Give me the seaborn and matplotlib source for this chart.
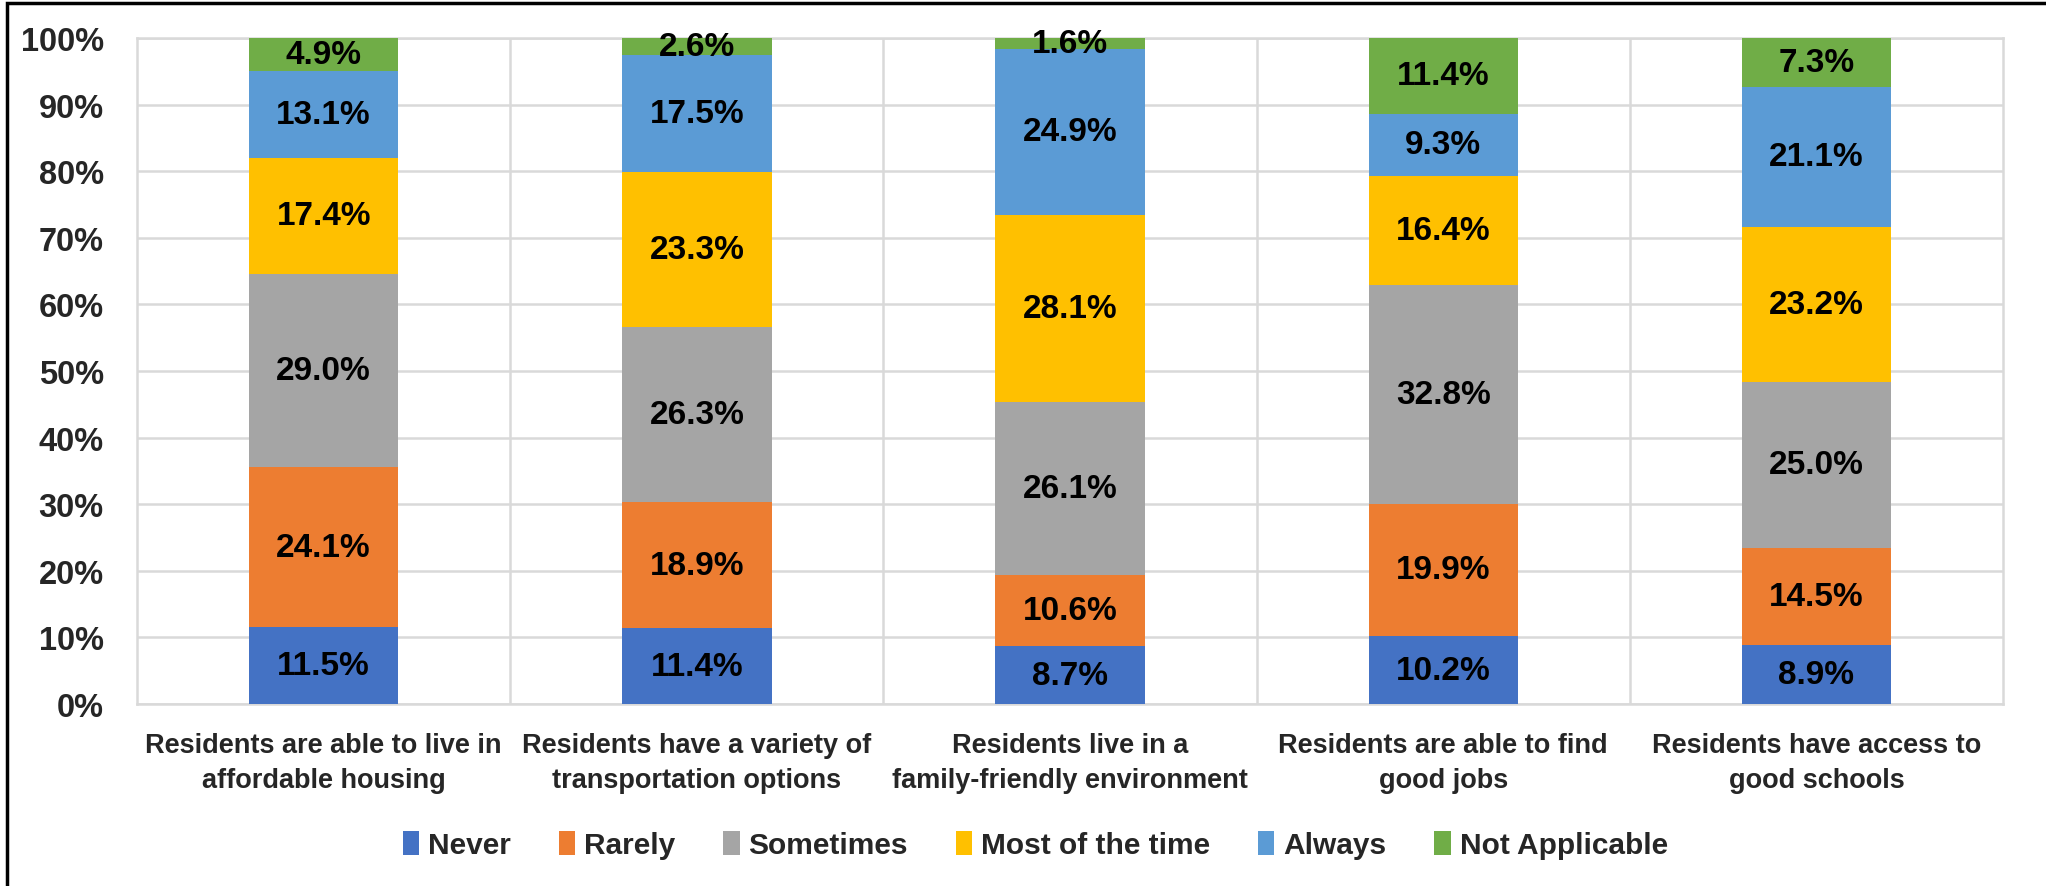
import numpy as np
import matplotlib
matplotlib.use('Agg')
import matplotlib.pyplot as plt
import seaborn as sns
from matplotlib.patches import Rectangle, Patch
from matplotlib import font_manager

sns.set_style('white')
names = {f.name for f in font_manager.fontManager.ttflist}
fam = 'Liberation Sans Narrow' if 'Liberation Sans Narrow' in names else 'Liberation Sans'
plt.rcParams['font.family'] = [fam, 'DejaVu Sans']
plt.rcParams['font.weight'] = 'bold'

categories = ['Residents are able to live in\naffordable housing',
              'Residents have a variety of\ntransportation options',
              'Residents live in a\nfamily-friendly environment',
              'Residents are able to find\ngood jobs',
              'Residents have access to\ngood schools']
responses = ['Never', 'Rarely', 'Sometimes', 'Most of the time', 'Always', 'Not Applicable']
never = [11.5, 11.4, 8.7, 10.2, 8.9]
rarely = [24.1, 18.9, 10.6, 19.9, 14.5]
sometimes = [29.0, 26.3, 26.1, 32.8, 25.0]
most_time = [17.4, 23.3, 28.1, 16.4, 23.2]
always = [13.1, 17.5, 24.9, 9.3, 21.1]
not_applicable = [4.9, 2.6, 1.6, 11.4, 7.3]
colors = ['#4472C4', '#ED7D31', '#A5A5A5', '#FFC000', '#5B9BD5', '#70AD47']

series = [never, rarely, sometimes, most_time, always, not_applicable]

fig = plt.figure(figsize=(20.46, 8.87), dpi=100)
ax = fig.add_axes([0.067, 0.2052, 0.912, 0.7508])

bottoms = np.zeros(len(categories))
for name, vals, c in zip(responses, series, colors):
    sns.barplot(x=categories, y=vals, bottom=bottoms, color=c, saturation=1,
                width=0.4, linewidth=0, ax=ax, zorder=3)
    cont = ax.containers[-1]
    ax.bar_label(cont, labels=[f'{v:.1f}%' for v in vals], label_type='center',
                 fontsize=24, fontweight='bold', color='black')
    bottoms = bottoms + np.array(vals)

ax.set_ylim(0, 100)
ax.set_xlim(-0.5, len(categories) - 0.5)
ax.set_yticks(np.arange(0, 101, 10))
ax.set_yticklabels([f'{t}%' for t in range(0, 101, 10)])
ax.set_xticks(range(len(categories)))
ax.set_xticklabels(categories, linespacing=1.45)
ax.set_xticks(np.arange(0.5, len(categories) - 1, 1), minor=True)
ax.tick_params(axis='y', length=0, pad=24, labelsize=23.5)
ax.tick_params(axis='x', which='both', length=0, pad=20, labelsize=19.5)
ax.set_xlabel('')
ax.set_ylabel('')
ax.grid(axis='y', color='#D9D9D9', lw=1.8, zorder=0)
ax.grid(axis='x', which='minor', color='#D9D9D9', lw=1.8, zorder=0)
for s in ax.spines.values():
    s.set_color('#D9D9D9')
    s.set_linewidth(1.8)

handles = [Patch(facecolor=c, edgecolor='none') for c in colors]
fig.legend(handles, responses, loc='center', bbox_to_anchor=(0.506, 1 - 846 / 887),
           ncol=6, frameon=False, fontsize=21.5, handlelength=0.55, handleheight=0.9,
           handletextpad=0.3, columnspacing=1.6)

fig.patches.append(Rectangle((7 / 2046, -0.05), 1.05, 1.05 - 4 / 887, transform=fig.transFigure,
                             fill=False, ec='black', lw=2.5))

fig.savefig('out.png', dpi=100)
